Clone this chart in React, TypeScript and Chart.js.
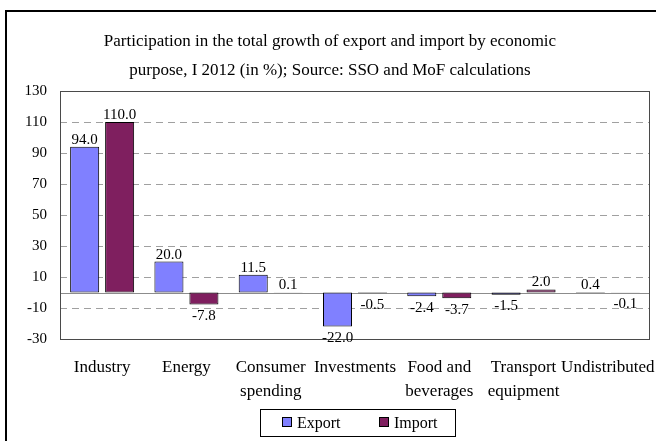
import React, { useEffect, useRef } from "react";
import { Chart, registerables } from "chart.js";

Chart.register(...registerables);

const titleLines = [
  "Participation in the total growth of export and import by economic",
  "purpose, I 2012 (in %); Source: SSO and MoF calculations",
];
const categories = [
  ["Industry"],
  ["Energy"],
  ["Consumer", "spending"],
  ["Investments"],
  ["Food and", "beverages"],
  ["Transport", "equipment"],
  ["Undistributed"],
];
const seriesNames = ["Export", "Import"];
const exportValues = [94.0, 20.0, 11.5, -22.0, -2.4, -1.5, 0.4];
const importValues = [110.0, -7.8, 0.1, -0.5, -3.7, 2.0, -0.1];
const seriesColors = ["#8080FF", "#7F1F5F"];
const yMin = -30;
const yMax = 130;
const yStep = 20;

const FONT = "'Liberation Serif', 'Times New Roman', serif";

const customDraw = {
  id: "customDraw",
  beforeDatasetsDraw(chart: any) {
    const { ctx, chartArea, scales } = chart;
    const y = scales.y;
    ctx.save();
    ctx.lineWidth = 1;
    ctx.strokeStyle = "#a0a0a0";
    ctx.setLineDash([7, 5]);
    for (let v = yMin + yStep; v < yMax; v += yStep) {
      const py = Math.round(y.getPixelForValue(v)) + 0.5;
      ctx.beginPath();
      ctx.moveTo(chartArea.left, py);
      ctx.lineTo(chartArea.right, py);
      ctx.stroke();
    }
    ctx.setLineDash([]);
    ctx.strokeStyle = "#8c8c8c";
    const pz = Math.round(y.getPixelForValue(0)) + 0.5;
    ctx.beginPath();
    ctx.moveTo(chartArea.left, pz);
    ctx.lineTo(chartArea.right, pz);
    ctx.stroke();
    ctx.restore();
  },
  afterDatasetsDraw(chart: any) {
    const { ctx, chartArea } = chart;
    ctx.save();
    // frame
    ctx.strokeStyle = "#4a4a4a";
    ctx.lineWidth = 1;
    ctx.strokeRect(
      Math.round(chartArea.left) + 0.5,
      Math.round(chartArea.top) + 0.5,
      Math.round(chartArea.right - chartArea.left) - 1,
      Math.round(chartArea.bottom - chartArea.top)
    );
    // data labels
    ctx.font = `15px ${FONT}`;
    ctx.fillStyle = "#000";
    ctx.textAlign = "center";
    chart.data.datasets.forEach((ds: any, di: number) => {
      const meta = chart.getDatasetMeta(di);
      meta.data.forEach((bar: any, i: number) => {
        const v = ds.data[i];
        const label = v.toFixed(1);
        if (v >= 0) {
          ctx.textBaseline = "alphabetic";
          ctx.fillText(label, bar.x, bar.y - 3);
        } else {
          ctx.textBaseline = "top";
          ctx.fillText(label, bar.x, bar.y + 4);
        }
      });
    });
    // title
    ctx.font = `17px ${FONT}`;
    ctx.textBaseline = "alphabetic";
    ctx.fillText(titleLines[0], 330, 46);
    ctx.fillText(titleLines[1], 330, 75);
    // legend
    ctx.strokeStyle = "#000";
    ctx.strokeRect(260.5, 409.5, 195, 27);
    const items = [
      { x: 282, tx: 297 },
      { x: 379, tx: 394 },
    ];
    ctx.font = `16px ${FONT}`;
    ctx.textAlign = "left";
    items.forEach((it, k) => {
      ctx.fillStyle = seriesColors[k];
      ctx.fillRect(it.x, 417, 10, 10);
      ctx.strokeStyle = "#000";
      ctx.strokeRect(it.x + 0.5, 417.5, 9, 9);
      ctx.fillStyle = "#000";
      ctx.fillText(seriesNames[k], it.tx, 428);
    });
    ctx.restore();
  },
};

export default function App() {
  const ref = useRef<HTMLCanvasElement>(null);
  useEffect(() => {
    if (!ref.current) return;
    const chart = new Chart(ref.current, {
      type: "bar",
      data: {
        labels: categories,
        datasets: [
          {
            label: seriesNames[0],
            data: exportValues,
            backgroundColor: seriesColors[0],
            borderColor: "#000",
            borderWidth: 1,
            borderSkipped: false,
            categoryPercentage: 0.83,
            barPercentage: 0.83,
          },
          {
            label: seriesNames[1],
            data: importValues,
            backgroundColor: seriesColors[1],
            borderColor: "#000",
            borderWidth: 1,
            borderSkipped: false,
            categoryPercentage: 0.83,
            barPercentage: 0.83,
          },
        ],
      },
      options: {
        responsive: false,
        animation: false,
        layout: { padding: { left: 0, right: 6, top: 91, bottom: 0 } },
        plugins: {
          legend: { display: false },
          title: { display: false },
          tooltip: { enabled: false },
        },
        scales: {
          x: {
            grid: { display: false, drawTicks: false },
            border: { display: false },
            ticks: {
              autoSkip: false,
              maxRotation: 0,
              minRotation: 0,
              padding: 17,
              color: "#000",
              font: { family: FONT, size: 17, lineHeight: 1.41 },
            },
            afterFit: (s: any) => {
              s.height = 102;
              s.paddingLeft = 0;
              s.paddingRight = 0;
            },
          },
          y: {
            min: yMin,
            max: yMax,
            grid: { display: false, drawTicks: false },
            border: { display: false },
            ticks: {
              stepSize: yStep,
              padding: 13,
              color: "#000",
              font: { family: FONT, size: 15 },
            },
            afterFit: (s: any) => {
              s.width = 60;
              s.paddingTop = 0;
              s.paddingBottom = 0;
            },
          },
        },
      },
      plugins: [customDraw],
    });
    return () => chart.destroy();
  }, []);
  return (
    <div
      style={{
        position: "fixed",
        left: 0,
        top: 0,
        width: 656,
        height: 441,
        overflow: "hidden",
        background: "#fff",
      }}
    >
      <div
        style={{
          position: "absolute",
          left: 5,
          top: 10,
          width: 700,
          height: 500,
          border: "2px solid #000",
        }}
      />
      <canvas
        ref={ref}
        width={656}
        height={441}
        style={{ position: "absolute", left: 0, top: 0, width: 656, height: 441 }}
      />
    </div>
  );
}
